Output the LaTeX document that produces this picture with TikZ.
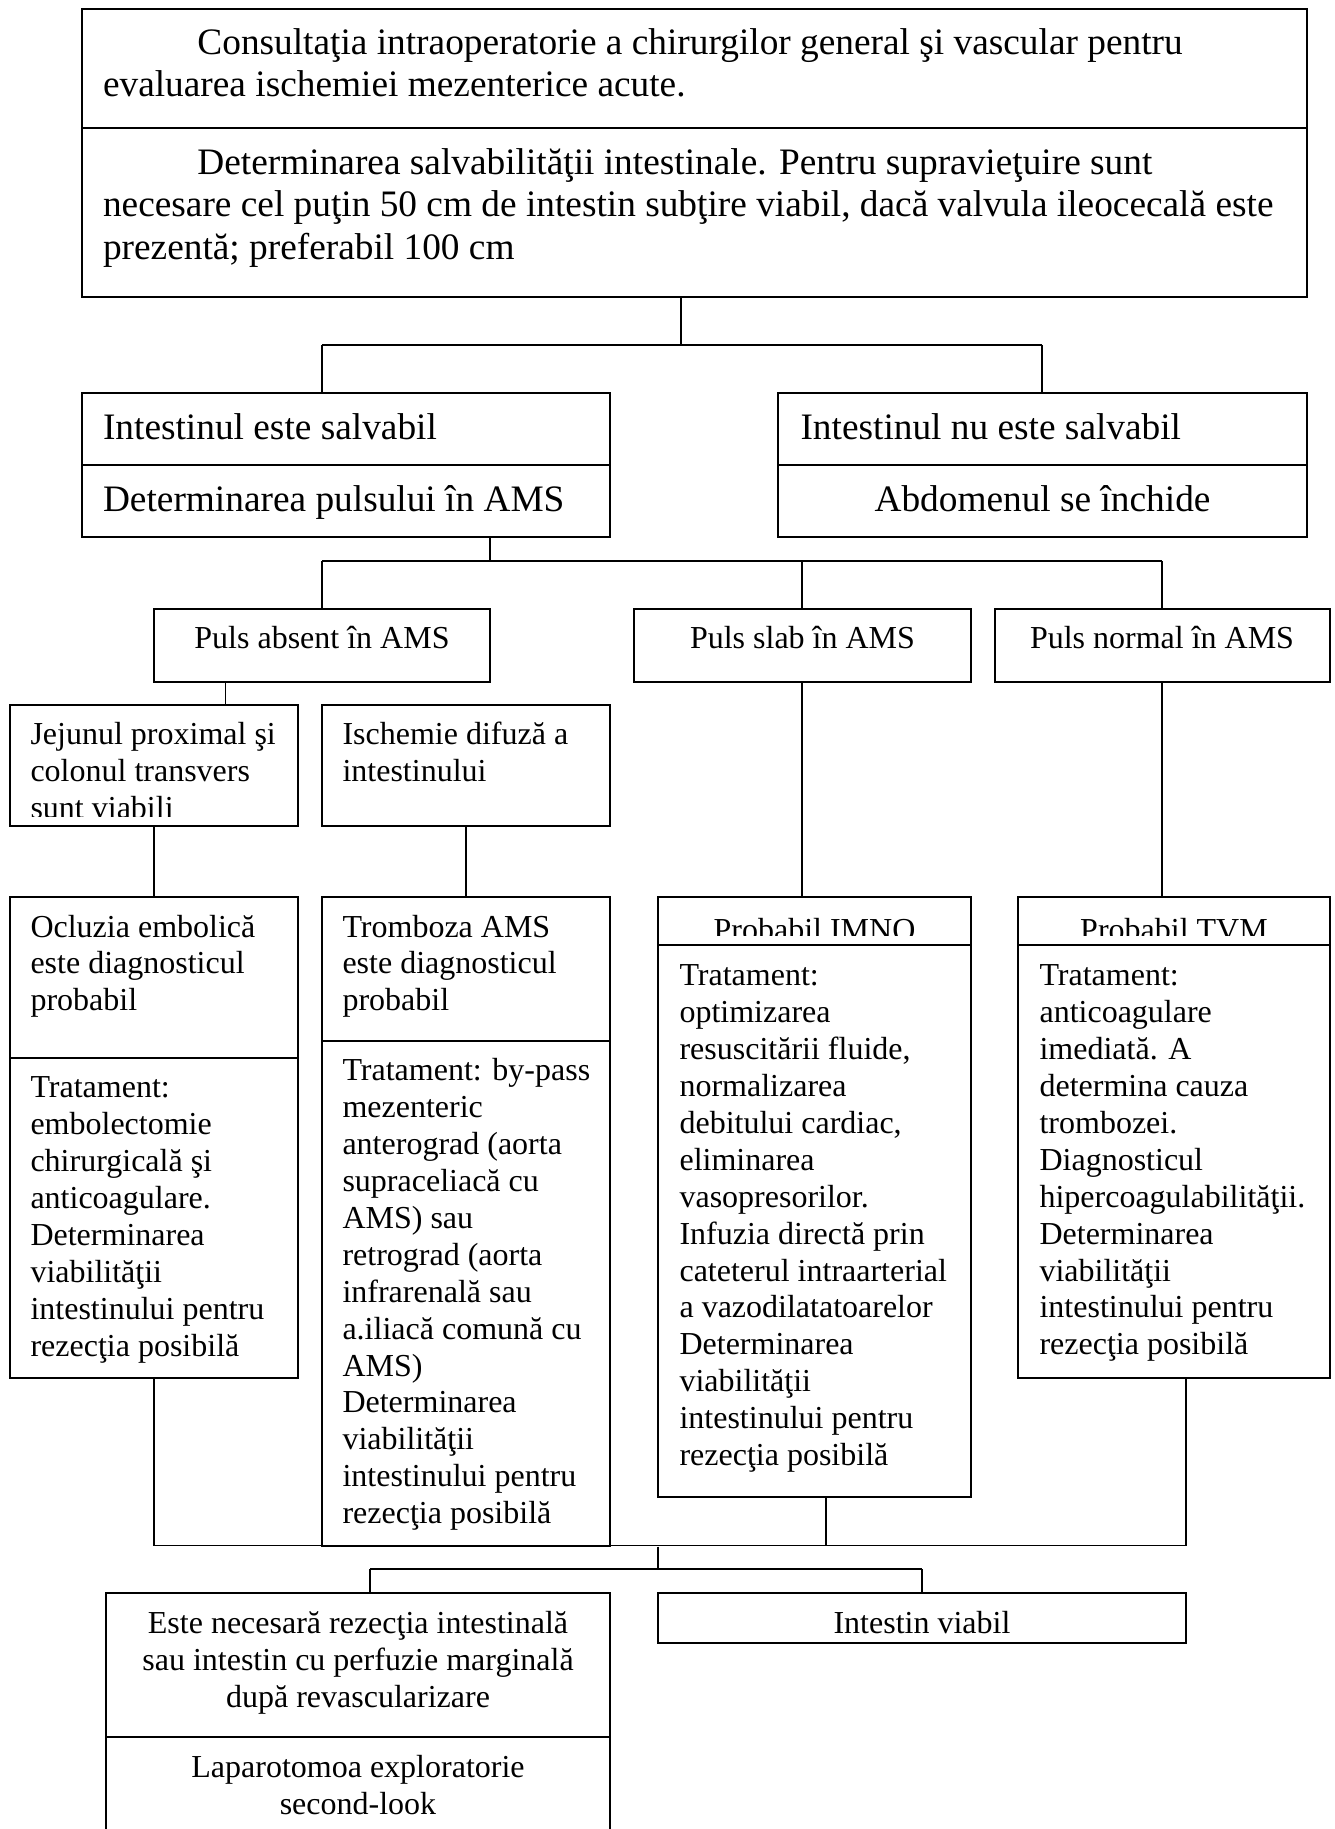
\documentclass[tikz,border=0pt]{standalone}
\usepackage{fontspec}
\setmainfont{Liberation Serif}
\usetikzlibrary{fit}
\newcommand\fl{\rule{0pt}{1em}}
\tikzset{
  box/.style={draw, line width=0.75pt, inner sep=0pt, rectangle},
  conn/.style={draw, line width=0.6pt},
  txtA/.style={inner sep=0pt, font=\fontsize{14}{16.1}\selectfont, align=left, anchor=north west, yshift=14pt},
  txtB/.style={inner sep=0pt, font=\fontsize{12}{13.85}\selectfont, align=left, anchor=north west, yshift=12pt},
  txtBc/.style={inner sep=0pt, font=\fontsize{12}{13.85}\selectfont, align=center, anchor=north, yshift=12pt},
  txtAc/.style={inner sep=0pt, font=\fontsize{14}{16.1}\selectfont, align=center, anchor=north, yshift=14pt}
}
\begin{document}
\begin{tikzpicture}[x=0.375pt,y=-0.375pt]
\useasboundingbox (0,0) rectangle (1335,1829);
% ---------- boxes ----------
\node[box, fit={(82,9) (1307,128.5)}] (b1) {};
\node[box, fit={(82,128.5) (1307,297)}] (b2) {};
\node[box, fit={(82,393) (610,465)}] (s1) {};
\node[box, fit={(82,465) (610,537)}] (s2) {};
\node[box, fit={(778,393) (1307,465)}] (n1) {};
\node[box, fit={(778,465) (1307,537)}] (n2) {};
\node[box, fit={(154,609) (490,682)}] (p1) {};
\node[box, fit={(634,609) (971,682)}] (p2) {};
\node[box, fit={(994.5,609) (1330,682)}] (p3) {};
\node[box, fit={(10,705) (298,826)}] (jj) {};
\node[box, fit={(322,705) (610,826)}] (is) {};
\node[box, fit={(10,897) (298,1057.5)}] (oc1) {};
\node[box, fit={(10,1057.5) (298,1378)}] (oc2) {};
\node[box, fit={(322,897) (610,1041)}] (tr1) {};
\node[box, fit={(322,1041) (610,1545.5)}] (tr2) {};
\node[box, fit={(658,897) (971,945)}] (im1) {};
\node[box, fit={(658,945) (971,1497)}] (im2) {};
\node[box, fit={(1018,897) (1330,945)}] (tv1) {};
\node[box, fit={(1018,945) (1330,1378)}] (tv2) {};
\node[box, fit={(105.6,1593) (610,1737)}] (e1) {};
\node[box, fit={(105.6,1737) (610,1845)}] (e2) {};
\node[box, fit={(658,1593) (1186,1643)}] (v1) {};
% ---------- junction coordinates ----------
\coordinate (j1) at (681,345);
\coordinate (j1l) at (322,345);
\coordinate (j1r) at (1042,345);
\coordinate (j2) at (490,561);
\coordinate (j2l) at (322,561);
\coordinate (j2m) at (802,561);
\coordinate (j2r) at (1162,561);
\coordinate (j3) at (225.6,705);
\coordinate (j4) at (154,897);
\coordinate (j5) at (466,897);
\coordinate (j6) at (802,897);
\coordinate (j7) at (1162,897);
\coordinate (j8l) at (154,1545.5);
\coordinate (j8m) at (826,1545.5);
\coordinate (j8r) at (1186,1545.5);
\coordinate (j9) at (658,1569);
\coordinate (j9l) at (370,1569);
\coordinate (j9r) at (922,1569);
% ---------- connectors ----------
\draw[conn] (b2.south -| j1) -- (j1);
\draw[conn] (j1l) -- (j1r);
\draw[conn] (j1l) -- (j1l |- s1.north);
\draw[conn] (j1r) -- (j1r |- n1.north);
\draw[conn] (s2.south -| j2) -- (j2);
\draw[conn] (j2l) -- (j2r);
\draw[conn] (j2l) -- (j2l |- p1.north);
\draw[conn] (j2m) -- (j2m |- p2.north);
\draw[conn] (j2r) -- (j2r |- p3.north);
\draw[conn] (p1.south -| j3) -- (j3);
\draw[conn] (jj.south -| j4) -- (j4);
\draw[conn] (is.south -| j5) -- (j5);
\draw[conn] (p2.south -| j6) -- (j6);
\draw[conn] (p3.south -| j7) -- (j7);
\draw[conn] (oc2.south -| j8l) -- (j8l) -- (j8r);
\draw[conn] (im2.south -| j8m) -- (j8m);
\draw[conn] (tv2.south -| j8r) -- (j8r);
\draw[conn] (j9 |- tr2.south) -- (j9);
\draw[conn] (j9l) -- (j9r);
\draw[conn] (j9l) -- (j9l |- e1.north);
\draw[conn] (j9r) -- (j9r |- v1.north);
% ---------- texts ----------
\node[txtA] (tb1) at (102.5,53.5) {\fl\hspace*{35.4pt}Consultaţia intraoperatorie a chirurgilor general şi vascular pentru\\evaluarea ischemiei mezenterice acute.};
\node[txtA] (tb2) at (102.5,173.5) {\fl\hspace*{35.4pt}Determinarea salvabilităţii intestinale. Pentru supravieţuire sunt\\necesare cel puţin 50 cm de intestin subţire viabil, dacă valvula ileocecală este\\prezentă; preferabil 100 cm};
\node[txtA] (ts1) at (102.5,438.5) {\fl Intestinul este salvabil};
\node[txtA] (ts2) at (102.5,510.5) {\fl Determinarea pulsului în AMS};
\node[txtA] (tn1) at (800,438.5) {\fl Intestinul nu este salvabil};
\node[txtAc] (tn2) at (1042.5,510.5) {\fl Abdomenul se închide};
\node[txtBc] (tp1) at (322,648) {\fl Puls absent în AMS};
\node[txtBc] (tp2) at (802.5,648) {\fl Puls slab în AMS};
\node[txtBc] (tp3) at (1162,648) {\fl Puls normal în AMS};
\begin{scope}
\clip (10,705) rectangle (298,816.5);
\node[txtB] (tjj) at (30,744) {\fl Jejunul proximal şi\\colonul transvers\\sunt viabili};
\end{scope}
\node[txtB] (tis) at (342,744) {\fl Ischemie difuză a\\intestinului};
\node[txtB] (toc1) at (30,936.5) {\fl Ocluzia embolică\\este diagnosticul\\probabil};
\node[txtB] (toc2) at (30,1097) {\fl Tratament:\\embolectomie\\chirurgicală şi\\anticoagulare.\\Determinarea\\viabilităţii\\intestinului pentru\\rezecţia posibilă};
\node[txtB] (ttr1) at (342,936.5) {\fl Tromboza AMS\\este diagnosticul\\probabil};
\node[txtB] (ttr2) at (342,1080) {\fl Tratament: by-pass\\mezenteric\\anterograd (aorta\\supraceliacă cu\\AMS) sau\\retrograd (aorta\\infrarenală sau\\a.iliacă comună cu\\AMS)\\Determinarea\\viabilităţii\\intestinului pentru\\rezecţia posibilă};
\begin{scope}
\clip (658,897) rectangle (1330,935);
\node[txtBc] (tim1) at (814.5,940) {\fl Probabil IMNO};
\node[txtBc] (ttv1) at (1174,940) {\fl Probabil TVM};
\end{scope}
\node[txtB] (tim2) at (679,985) {\fl Tratament:\\optimizarea\\resuscitării fluide,\\normalizarea\\debitului cardiac,\\eliminarea\\vasopresorilor.\\Infuzia directă prin\\cateterul intraarterial\\a vazodilatatoarelor\\Determinarea\\viabilităţii\\intestinului pentru\\rezecţia posibilă};
\node[txtB] (ttv2) at (1039,985) {\fl Tratament:\\anticoagulare\\imediată. A\\determina cauza\\trombozei.\\Diagnosticul\\hipercoagulabilităţii.\\Determinarea\\viabilităţii\\intestinului pentru\\rezecţia posibilă};
\node[txtBc] (te1) at (358,1633) {\fl Este necesară rezecţia intestinală\\sau intestin cu perfuzie marginală\\după revascularizare};
\node[txtBc] (te2) at (358,1777) {\fl Laparotomoa exploratorie\\second-look};
\node[txtBc] (tv1t) at (922,1633) {\fl Intestin viabil};
\end{tikzpicture}
\end{document}
